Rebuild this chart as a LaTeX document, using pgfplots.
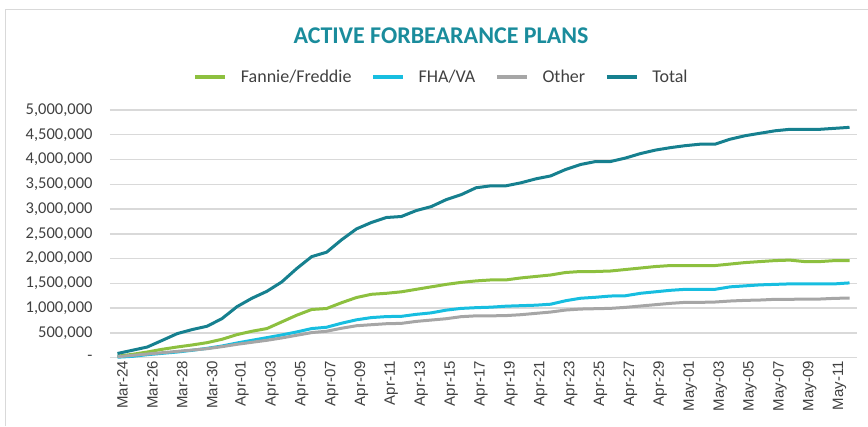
\documentclass[border=0pt]{standalone}
\usepackage{pgfplots}
\usepackage{pgfplotstable}
\pgfplotsset{compat=1.18}
\usepackage{fontspec}
\setmainfont{Carlito}
\newfontfamily\arialfont{Liberation Sans}
\definecolor{cF}{HTML}{8DC03F}
\definecolor{cC}{HTML}{17BEE0}
\definecolor{cO}{HTML}{A6A6A6}
\definecolor{cT}{HTML}{16808F}
\definecolor{cTitle}{HTML}{1A8C9C}
\definecolor{cGrid}{HTML}{D9D9D9}
\definecolor{cTxt}{HTML}{404040}

\pgfplotstableread{
i F C O T
0 30000 10000 20000 85000
1 68000 27000 47000 150000
2 115000 61000 74000 216000
3 170000 88000 101000 350000
4 216000 115000 128000 486000
5 257000 149000 155000 568000
6 304000 189000 182000 635000
7 372000 236000 223000 790000
8 466000 297000 270000 1030000
9 534000 351000 311000 1200000
10 588000 405000 351000 1340000
11 723000 459000 399000 1530000
12 858000 520000 453000 1800000
13 973000 588000 507000 2040000
14 993000 615000 534000 2130000
15 1110000 696000 595000 2380000
16 1215000 765000 645000 2600000
17 1280000 810000 666000 2730000
18 1300000 830000 686000 2830000
19 1330000 835000 693000 2850000
20 1380000 875000 733000 2970000
21 1430000 905000 760000 3050000
22 1480000 960000 787000 3190000
23 1520000 995000 828000 3290000
24 1550000 1010000 845000 3430000
25 1570000 1020000 845000 3470000
26 1570000 1040000 850000 3470000
27 1610000 1050000 868000 3530000
28 1640000 1060000 895000 3610000
29 1670000 1080000 922000 3670000
30 1720000 1150000 962000 3800000
31 1740000 1200000 982000 3900000
32 1740000 1220000 989000 3960000
33 1750000 1245000 996000 3960000
34 1780000 1250000 1016000 4030000
35 1810000 1300000 1043000 4120000
36 1840000 1330000 1070000 4190000
37 1860000 1360000 1097000 4240000
38 1860000 1380000 1117000 4280000
39 1860000 1380000 1117000 4310000
40 1860000 1380000 1124000 4310000
41 1890000 1430000 1144000 4410000
42 1920000 1450000 1157000 4480000
43 1940000 1470000 1164000 4530000
44 1960000 1480000 1178000 4580000
45 1970000 1490000 1178000 4610000
46 1940000 1490000 1184000 4610000
47 1940000 1490000 1184000 4610000
48 1960000 1490000 1198000 4630000
49 1960000 1510000 1204000 4650000
}\data

\begin{document}
\begin{tikzpicture}
\path[use as bounding box] (0pt,0pt) rectangle (868pt,426pt);
\draw[color=cGrid, line width=1pt] (5.5pt,0pt) -- (5.5pt,416.7pt) -- (870pt,416.7pt);
\begin{axis}[
  at={(110pt,68.3pt)}, anchor=south west,
  scale only axis, width=747pt, height=247.7pt,
  xmin=-0.5, xmax=49.5, ymin=0, ymax=5000000,
  scaled y ticks=false,
  axis line style={draw=none},
  xtick={0,2,...,48},
  xticklabels={Mar-24,Mar-26,Mar-28,Mar-30,Apr-01,Apr-03,Apr-05,Apr-07,Apr-09,Apr-11,Apr-13,Apr-15,Apr-17,Apr-19,Apr-21,Apr-23,Apr-25,Apr-27,Apr-29,May-01,May-03,May-05,May-07,May-09,May-11},
  xticklabel style={rotate=90, anchor=east, font=\arialfont\fontsize{15}{16}\selectfont, text=cTxt, yshift=-5pt},
  ytick={0,500000,...,5000000},
  yticklabels={{-\hspace{7pt}},{500,000},{1,000,000},{1,500,000},{2,000,000},{2,500,000},{3,000,000},{3,500,000},{4,000,000},{4,500,000},{5,000,000}},
  yticklabel style={anchor=east, font=\fontsize{16.5}{18}\selectfont, text=cTxt, xshift=-14pt},
  major tick length=0pt,
  ymajorgrids,
  grid style={color=cGrid, line width=1.4pt},
  legend columns=4,
  legend style={at={(0.444,1.133)}, anchor=center, draw=none, fill=none,
    font=\fontsize{18}{19}\selectfont, text=cTxt,
    /tikz/every odd column/.append style={column sep=12pt},
    /tikz/every even column/.append style={column sep=18pt}},
  legend image code/.code={\draw[#1, line width=3.2pt] (0pt,0pt) -- (30pt,0pt);},
  every axis plot/.append style={line width=3pt, line join=round, no markers},
  clip=false,
]
\addplot[color=cF] table[x=i, y=F] {\data};
\addlegendentry{Fannie/Freddie}
\addplot[color=cC] table[x=i, y=C] {\data};
\addlegendentry{FHA/VA}
\addplot[color=cO] table[x=i, y=O] {\data};
\addlegendentry{Other}
\addplot[color=cT] table[x=i, y=T] {\data};
\addlegendentry{Total}
\end{axis}
\node[font=\fontsize{24}{26}\selectfont\bfseries, text=cTitle] at (441pt,390pt) {ACTIVE FORBEARANCE PLANS};
\end{tikzpicture}
\end{document}
